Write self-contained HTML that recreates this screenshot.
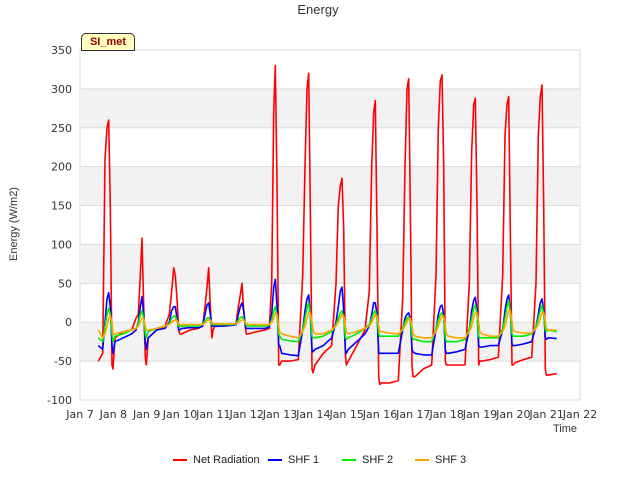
<!DOCTYPE html>
<html><head><meta charset="utf-8"><style>
body{margin:0;background:#fff;font-family:"Liberation Sans","DejaVu Sans",sans-serif}
svg text{font-family:"DejaVu Sans","Liberation Sans",sans-serif}
</style></head><body>
<svg id="c" width="640" height="480" xmlns="http://www.w3.org/2000/svg"></svg>
<script>
const offsets=[0.05,0.3,0.55,0.68,0.75,0.81,0.86,0.91,0.96,0.99];
const days=[7,8,9,10,11,12,13,14,15,16,17,18,19,20,21];
const yTicks=[-100,-50,0,50,100,150,200,250,300,350];
const xTickLabels=["Jan 7","Jan 8","Jan 9","Jan 10","Jan 11","Jan 12","Jan 13","Jan 14","Jan 15","Jan 16","Jan 17","Jan 18","Jan 19","Jan 20","Jan 21","Jan 22"];
const netRad=[
[null,null,-50,-40,210,250,260,150,-55,-60],
[-20,-12,-10,5,10,60,108,20,-45,-55],
[-20,-10,-5,10,40,70,60,30,-10,-15],
[-15,-10,-8,-5,20,45,70,20,-20,-10],
[-5,-5,-4,-3,20,35,50,15,-5,-15],
[-15,-12,-10,-8,50,270,330,180,-55,-55],
[-50,-50,-48,60,200,300,320,150,-60,-65],
[-55,-40,-30,50,150,175,185,120,-40,-55],
[-50,-30,-10,40,200,270,285,120,-70,-80],
[-78,-78,-75,30,200,300,313,150,-55,-70],
[-70,-60,-55,60,250,310,318,200,-50,-55],
[-55,-55,-55,50,220,280,288,150,-55,-50],
[-50,-48,-45,60,240,280,290,120,-55,-55],
[-52,-48,-45,50,240,290,305,150,-60,-68],
[-68,-66,null,null,null,null,null,null,null,null]];
const shf1=[
[null,null,-30,-35,0,30,38,20,-30,-40],
[-25,-20,-15,-10,0,20,33,10,-25,-35],
[-20,-10,-8,0,15,20,20,5,-10,-10],
[-8,-7,-7,-5,10,22,25,10,-5,-5],
[-5,-5,-4,-3,10,20,25,15,-5,-8],
[-8,-8,-8,-6,10,45,55,20,-30,-30],
[-40,-42,-43,-10,15,30,35,10,-35,-38],
[-35,-30,-20,0,20,40,45,15,-35,-40],
[-35,-25,-15,-5,10,25,25,10,-40,-40],
[-40,-40,-40,-10,5,10,12,5,-35,-38],
[-40,-42,-42,-10,10,20,22,10,-35,-40],
[-40,-38,-35,-10,15,28,32,15,-30,-32],
[-32,-30,-30,-10,15,30,35,15,-28,-30],
[-30,-28,-25,-5,10,25,30,15,-20,-22],
[-20,-21,null,null,null,null,null,null,null,null]];
const shf2=[
[null,null,-20,-25,-5,10,18,10,-15,-25],
[-18,-15,-10,-8,-2,10,15,5,-15,-20],
[-12,-8,-5,-2,5,8,8,2,-5,-5],
[-5,-5,-5,-3,2,5,6,3,-3,-3],
[-3,-3,-3,-2,3,6,7,4,-2,-4],
[-5,-5,-5,-4,3,15,20,8,-15,-18],
[-22,-24,-25,-10,5,18,25,10,-18,-20],
[-20,-18,-12,-3,5,12,15,5,-20,-22],
[-20,-15,-8,-3,5,12,15,5,-15,-18],
[-18,-18,-18,-8,0,5,7,2,-18,-22],
[-22,-25,-25,-8,3,10,12,5,-20,-25],
[-25,-25,-22,-8,5,18,22,10,-18,-20],
[-20,-20,-20,-8,5,20,28,12,-15,-18],
[-18,-18,-15,-5,5,15,22,10,-10,-12],
[-10,-12,null,null,null,null,null,null,null,null]];
const shf3=[
[null,null,-10,-20,-15,-5,5,8,0,-15],
[-15,-12,-10,-8,-5,0,5,5,-5,-10],
[-10,-8,-5,-3,0,2,3,2,-2,-3],
[-3,-3,-3,-3,-1,2,3,3,0,-2],
[-2,-2,-2,-2,0,2,3,3,0,-2],
[-3,-3,-3,-3,0,5,12,10,-5,-12],
[-15,-18,-20,-12,-5,5,12,12,0,-10],
[-15,-15,-10,-5,0,5,10,8,-5,-12],
[-15,-12,-8,-5,0,5,10,8,-5,-12],
[-12,-14,-15,-10,-5,0,5,5,-5,-15],
[-18,-20,-20,-12,-5,3,8,8,-5,-15],
[-18,-20,-20,-12,-5,5,12,12,0,-12],
[-15,-18,-18,-12,-5,5,15,15,0,-10],
[-12,-14,-14,-8,-3,5,12,12,2,-8],
[-10,-10,null,null,null,null,null,null,null,null]];
const NS="http://www.w3.org/2000/svg";
const svg=document.getElementById('c');
const X0=80,X1=580,Y0=400,Y1=50;
const xs=t=>X0+(t-7)/15*(X1-X0);
const ys=v=>Y0-(v+100)/450*(Y0-Y1);
function el(tag,attrs,parent){const e=document.createElementNS(NS,tag);for(const k in attrs)e.setAttribute(k,attrs[k]);(parent||svg).appendChild(e);return e;}
let bg=el('rect',{x:X0,y:Y1,width:X1-X0,height:Y0-Y1,fill:'#fff',stroke:'#ddd'});


[[250,300],[150,200],[50,100],[-50,0]].forEach(b=>{
 const r=el('rect',{x:X0,y:ys(b[1]),width:X1-X0,height:ys(b[0])-ys(b[1]),fill:'#f2f2f2'});
 
 
});
yTicks.forEach(v=>{
 const g=el('line',{x1:X0,x2:X1,y1:ys(v),y2:ys(v),stroke:'#dcdcdc'});
 
 
 const t=el('text',{x:X0-8,y:ys(v)+4,'text-anchor':'end','font-size':'11',fill:'#333'});
 t.textContent=v;
 
 
});
xTickLabels.forEach((l,i)=>{
 const t=el('text',{x:xs(7+i),y:418,'text-anchor':'middle','font-size':'11',fill:'#333'});
 t.textContent=l;
 
 
});
function series(data,color,name){
 let d='',pen=false;
 days.forEach((day,i)=>offsets.forEach((o,j)=>{
  const v=data[i][j];
  if(v===null){pen=false;return;}
  d+=(pen?'L':'M')+xs(day+o).toFixed(1)+','+ys(v).toFixed(1);pen=true;
 }));
 const p=el('path',{d:d,fill:'none',stroke:color,'stroke-width':1.6,'stroke-linejoin':'round'});
 
 
}
series(netRad,'#ff0000','net-radiation-line');
series(shf1,'#0000ff','shf1-line');
series(shf2,'#00ee00','shf2-line');
series(shf3,'#ffa500','shf3-line');
</script>
<div style="position:absolute;left:0;top:2px;width:636px;text-align:center;font-size:13px;color:#333">Energy</div>
<div style="position:absolute;left:-36px;top:218px;width:100px;text-align:center;font-size:11px;color:#333;transform:rotate(-90deg)">Energy (W/m2)</div>
<div style="position:absolute;left:553px;top:423px;font-size:11px;color:#333">Time</div>
<div style="position:absolute;left:81px;top:33px;width:52px;height:16px;background:#ffffc0;border:1px solid #333;border-radius:5px 5px 0 0;font-size:11px;font-weight:bold;color:#8b0000;text-align:center;line-height:16px">SI_met</div>
<div style="position:absolute;top:454px;left:0;width:640px;font-size:11px;color:#222">
 <span style="position:absolute;left:173px"><span style="display:inline-block;width:14px;height:2px;background:#f00;vertical-align:middle;margin-right:6px"></span>Net Radiation</span>
 <span style="position:absolute;left:268px"><span style="display:inline-block;width:14px;height:2px;background:#00f;vertical-align:middle;margin-right:6px"></span>SHF 1</span>
 <span style="position:absolute;left:342px"><span style="display:inline-block;width:14px;height:2px;background:#0e0;vertical-align:middle;margin-right:6px"></span>SHF 2</span>
 <span style="position:absolute;left:415px"><span style="display:inline-block;width:14px;height:2px;background:#ffa500;vertical-align:middle;margin-right:6px"></span>SHF 3</span>
</div>
</body></html>
